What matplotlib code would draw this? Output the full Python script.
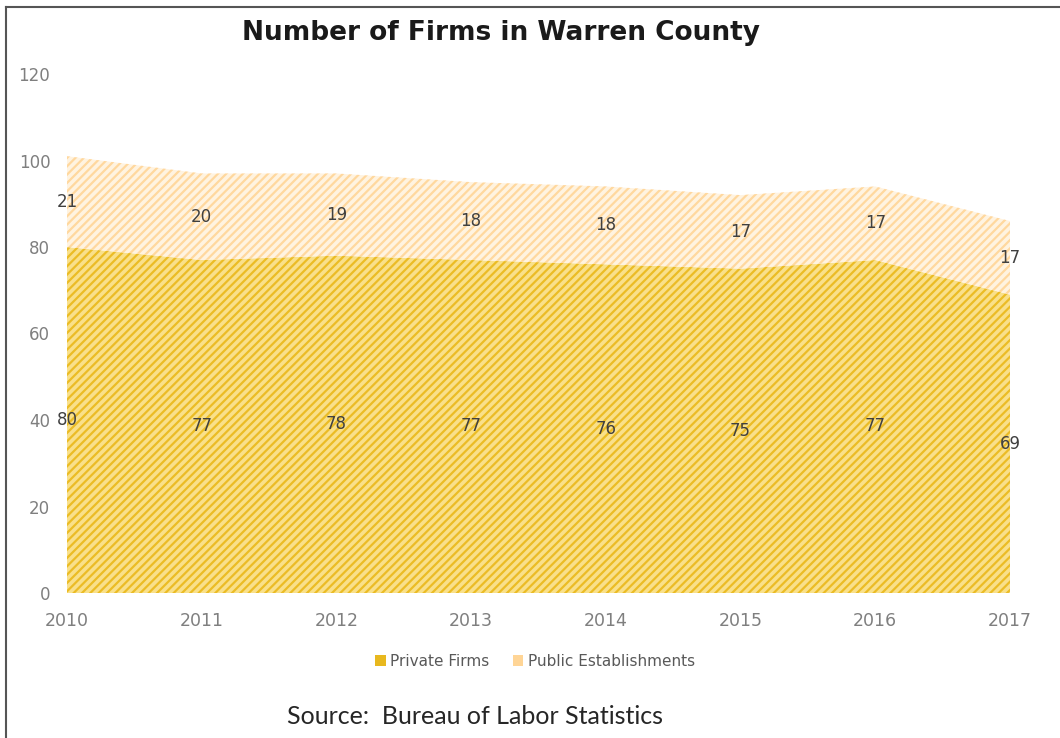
import matplotlib.pyplot as plt
import numpy as np
from matplotlib.patches import Patch

years = [2010, 2011, 2012, 2013, 2014, 2015, 2016, 2017]
private = [80, 77, 78, 77, 76, 75, 77, 69]
public = [21, 20, 19, 18, 18, 17, 17, 17]

plt.rcParams['hatch.linewidth'] = 1.6

fig = plt.figure(figsize=(10.6, 7.38), dpi=100)
ax = fig.add_axes([67/1060, 1 - 593/738, (1010 - 67)/1060, (593 - 74)/738])

x = np.array(years)
priv = np.array(private)
top = priv + np.array(public)

ax.fill_between(x, 0, priv, facecolor='#F9E08A', edgecolor='#EBBC25', hatch='////', linewidth=0)
ax.fill_between(x, priv, top, facecolor='#FFF3E0', edgecolor='#FFD89E', hatch='////', linewidth=0)

for xi, p, q in zip(x, priv, public):
    ax.text(xi, p / 2, str(p), ha='center', va='center', fontsize=12, color='#404040')
    ax.text(xi, p + q / 2, str(q), ha='center', va='center', fontsize=12, color='#404040')

ax.set_xlim(2010, 2017)
ax.set_ylim(0, 120)
ax.set_yticks(range(0, 121, 20))
ax.set_xticks(years)
for s in ax.spines.values():
    s.set_visible(False)
ax.tick_params(length=0, colors='#7f7f7f', labelsize=12)
ax.tick_params(axis='y', pad=12)
ax.tick_params(axis='x', pad=14, labelsize=12.5)

fig.text(501/1060, 1 - 33/738, 'Number of Firms in Warren County', ha='center', va='center',
         fontsize=19, fontweight='bold', family='DejaVu Sans', color='#1a1a1a')

handles = [Patch(facecolor='#E8B81E', label='Private Firms'),
           Patch(facecolor='#FFD596', label='Public Establishments')]
fig.legend(handles=handles, loc='center', bbox_to_anchor=(535/1060, 1 - 661/738), ncol=2,
           frameon=False, fontsize=11, handlelength=0.7, handleheight=0.7, handletextpad=0.3,
           columnspacing=1.5, labelcolor='#595959')

fig.text(475/1060, 1 - 716/738, 'Source:  Bureau of Labor Statistics', ha='center', va='center',
         fontsize=18, color='#262626', family='Lato')

fig.add_artist(plt.Line2D([6/1060, 6/1060], [0, 1 - 7/738], color='#555555', lw=1.5))
fig.add_artist(plt.Line2D([6/1060, 1], [1 - 7/738, 1 - 7/738], color='#555555', lw=1.5))

fig.savefig('out.png', dpi=100)
